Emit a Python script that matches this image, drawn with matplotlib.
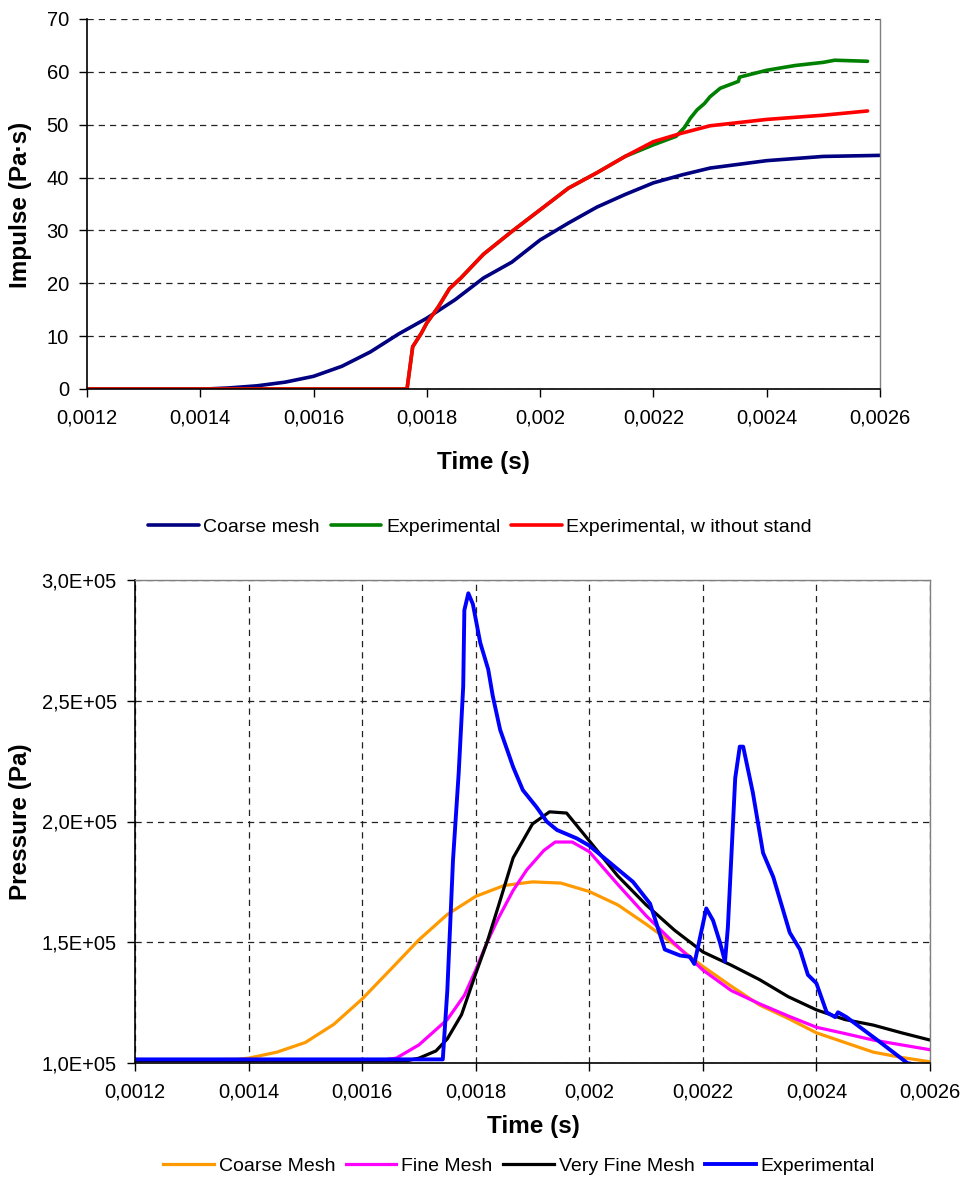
import matplotlib
matplotlib.use("Agg")
import matplotlib.pyplot as plt
from matplotlib.ticker import FuncFormatter, MultipleLocator

plt.rcParams['font.family'] = ['Liberation Sans', 'DejaVu Sans']

# ---------------- Top chart data: Impulse ----------------
coarse_t = [0.0012, 0.00141, 0.00145, 0.0015, 0.00155, 0.0016, 0.00165, 0.0017, 0.00175,
            0.0018, 0.00185, 0.0019, 0.00195, 0.002, 0.00205, 0.0021, 0.00215, 0.0022,
            0.00225, 0.0023, 0.00235, 0.0024, 0.0025, 0.0026]
coarse_i = [0, 0, 0.2, 0.6, 1.3, 2.4, 4.3, 7.0, 10.4, 13.4, 16.9, 21.0, 24.0, 28.2, 31.4,
            34.4, 36.8, 39.0, 40.5, 41.8, 42.5, 43.2, 44.0, 44.2]

exp_t = [0.0012, 0.001765, 0.00177, 0.001775, 0.00179, 0.0018, 0.00182, 0.00184, 0.00186,
         0.0019, 0.00195, 0.002, 0.00205, 0.0021, 0.00215, 0.0022, 0.00224, 0.002255,
         0.002265, 0.002277, 0.00229, 0.0023, 0.002318, 0.00235, 0.002352, 0.0024,
         0.00245, 0.0025, 0.00252, 0.002578]
exp_i = [0, 0, 4, 8, 10.5, 12.5, 15.5, 19.0, 21.0, 25.5, 29.8, 33.9, 38.0, 40.9, 44.0,
         46.2, 47.8, 49.5, 51.2, 52.8, 54.0, 55.3, 56.9, 58.2, 59.0, 60.3, 61.2, 61.8,
         62.2, 62.0]

nostand_t = [0.0012, 0.001765, 0.00177, 0.001775, 0.00179, 0.0018, 0.00182, 0.00184,
             0.00186, 0.0019, 0.00195, 0.002, 0.00205, 0.0021, 0.00215, 0.0022, 0.00225,
             0.0023, 0.00235, 0.0024, 0.0025, 0.002578]
nostand_i = [0, 0, 4, 8, 10.5, 12.5, 15.5, 19.0, 21.0, 25.5, 29.8, 33.9, 38.0, 40.9, 44.0,
             46.8, 48.4, 49.8, 50.4, 51.0, 51.8, 52.6]

top_labels = ["Coarse mesh", "Experimental", "Experimental, w ithout stand"]
top_colors = ["#000080", "#008000", "#FF0000"]

# ---------------- Bottom chart data: Pressure ----------------
cm_t = [0.0012, 0.00138, 0.0014, 0.00145, 0.0015, 0.00155, 0.0016, 0.00165, 0.0017,
        0.00175, 0.0018, 0.00185, 0.0019, 0.00195, 0.002, 0.00205, 0.0021, 0.00215,
        0.0022, 0.00225, 0.0023, 0.00235, 0.0024, 0.00245, 0.0025, 0.00255, 0.0026]
cm_p = [1.01e5, 1.015e5, 1.02e5, 1.045e5, 1.085e5, 1.16e5, 1.265e5, 1.387e5, 1.51e5,
        1.615e5, 1.69e5, 1.735e5, 1.75e5, 1.745e5, 1.71e5, 1.655e5, 1.575e5, 1.49e5,
        1.40e5, 1.318e5, 1.24e5, 1.185e5, 1.125e5, 1.085e5, 1.045e5, 1.023e5, 1.005e5]

fm_t = [0.0012, 0.00163, 0.00166, 0.0017, 0.00175, 0.00178, 0.0018, 0.00182, 0.00184,
        0.001866, 0.00189, 0.00192, 0.00194, 0.00197, 0.002, 0.00205, 0.0021, 0.00215,
        0.0022, 0.00225, 0.0023, 0.00235, 0.0024, 0.00245, 0.0025, 0.00255, 0.0026]
fm_p = [1.01e5, 1.01e5, 1.02e5, 1.075e5, 1.18e5, 1.28e5, 1.385e5, 1.5e5, 1.6e5,
        1.715e5, 1.8e5, 1.88e5, 1.915e5, 1.915e5, 1.875e5, 1.74e5, 1.61e5, 1.495e5,
        1.385e5, 1.30e5, 1.245e5, 1.195e5, 1.148e5, 1.122e5, 1.095e5, 1.075e5, 1.055e5]

vfm_t = [0.0012, 0.00168, 0.0017, 0.00173, 0.00175, 0.001775, 0.0018, 0.00182, 0.00184,
         0.001866, 0.0019, 0.00193, 0.00196, 0.002, 0.00205, 0.0021, 0.00215, 0.0022,
         0.00225, 0.0023, 0.00235, 0.0024, 0.00245, 0.0025, 0.00255, 0.0026]
vfm_p = [1.01e5, 1.01e5, 1.02e5, 1.05e5, 1.10e5, 1.20e5, 1.37e5, 1.50e5, 1.65e5,
         1.85e5, 1.99e5, 2.04e5, 2.035e5, 1.92e5, 1.775e5, 1.655e5, 1.55e5, 1.46e5,
         1.405e5, 1.345e5, 1.275e5, 1.22e5, 1.18e5, 1.157e5, 1.125e5, 1.095e5]

ex_t = [0.0012, 0.001742, 0.00175, 0.00176, 0.00177, 0.001778, 0.00178, 0.001787,
        0.001795, 0.001808, 0.001822, 0.00183, 0.001843, 0.001866, 0.001883, 0.001907,
        0.001925, 0.001943, 0.001978, 0.002, 0.002036, 0.002077, 0.002107, 0.002133,
        0.00216, 0.002177, 0.002185, 0.002206, 0.002218, 0.00223, 0.002239, 0.002244,
        0.002257, 0.002265, 0.002271, 0.002288, 0.002306, 0.002324, 0.002353, 0.002371,
        0.002385, 0.0024, 0.002418, 0.002433, 0.002438, 0.002453, 0.00251, 0.00256,
        0.00258]
ex_p = [1.015e5, 1.015e5, 1.3e5, 1.84e5, 2.2e5, 2.56e5, 2.875e5, 2.945e5,
        2.9e5, 2.74e5, 2.63e5, 2.52e5, 2.38e5, 2.225e5, 2.13e5, 2.06e5,
        2.0e5, 1.965e5, 1.93e5, 1.9e5, 1.83e5, 1.75e5, 1.66e5, 1.47e5,
        1.445e5, 1.44e5, 1.41e5, 1.64e5, 1.59e5, 1.5e5, 1.42e5, 1.56e5,
        2.18e5, 2.31e5, 2.31e5, 2.12e5, 1.87e5, 1.77e5, 1.54e5, 1.47e5,
        1.365e5, 1.33e5, 1.21e5, 1.19e5, 1.21e5, 1.19e5, 1.09e5, 1.0e5,
        0.99e5]

bot_labels = ["Coarse Mesh", "Fine Mesh", "Very Fine Mesh", "Experimental"]
bot_colors = ["#FF9900", "#FF00FF", "#000000", "#0000FF"]

x_ticks = [0.0012, 0.0014, 0.0016, 0.0018, 0.002, 0.0022, 0.0024, 0.0026]

# ---------------- Figure ----------------
W, H = 968, 1180
fig = plt.figure(figsize=(W / 100, H / 100), dpi=100)


def rect(l, t, r, b):
    return [l / W, 1 - b / H, (r - l) / W, (b - t) / H]


def xfmt(v, pos):
    s = f"{v:.4f}".rstrip('0')
    return s.replace('.', ',')


def efmt(v, pos):
    return f"{v:.1E}".replace('.', ',')


grid_kw = dict(color='#222222', linestyle=(0, (5, 4)), linewidth=0.9)

# Top axes
ax1 = fig.add_axes(rect(87, 19, 880, 389))
ax1.plot(coarse_t, coarse_i, color=top_colors[0], lw=2.6, label=top_labels[0],
         solid_capstyle='round')
ax1.plot(exp_t, exp_i, color=top_colors[1], lw=2.6, label=top_labels[1], solid_capstyle='round')
ax1.plot(nostand_t, nostand_i, color=top_colors[2], lw=2.6, label=top_labels[2], solid_capstyle='round')
ax1.set_xlim(0.0012, 0.0026)
ax1.set_ylim(0, 70)
ax1.set_xticks(x_ticks)
ax1.xaxis.set_major_formatter(FuncFormatter(xfmt))
ax1.yaxis.set_major_locator(MultipleLocator(10))
ax1.yaxis.grid(True, **grid_kw)
ax1.set_axisbelow(True)

# Bottom axes
ax2 = fig.add_axes(rect(135, 580, 930, 1063))
for t, p, c, lab in zip([cm_t, fm_t, vfm_t, ex_t], [cm_p, fm_p, vfm_p, ex_p], bot_colors, bot_labels):
    ax2.plot(t, p, color=c, lw=2.8 if lab == "Experimental" else 2.3, label=lab)
ax2.set_xlim(0.0012, 0.0026)
ax2.set_ylim(1.0e5, 3.0e5)
ax2.set_xticks(x_ticks)
ax2.xaxis.set_major_formatter(FuncFormatter(xfmt))
ax2.yaxis.set_major_locator(MultipleLocator(0.5e5))
ax2.yaxis.set_major_formatter(FuncFormatter(efmt))
ax2.grid(True, **grid_kw)
ax2.set_axisbelow(True)

for ax in (ax1, ax2):
    ax.tick_params(axis='both', direction='out', length=6, width=1, labelsize=14.5,
                   colors='black')
    ax.tick_params(axis='x', pad=8)
    ax.tick_params(axis='y', pad=7)
    for s in ('left', 'bottom'):
        ax.spines[s].set_color('black')
        ax.spines[s].set_linewidth(1.2)
    for s in ('top', 'right'):
        ax.spines[s].set_color('#808080')
        ax.spines[s].set_linewidth(1.0)
ax1.spines['top'].set_visible(False)

# Axis labels
lab_kw = dict(fontsize=17.5, fontweight='bold', ha='center', va='center')
fig.text(21 / W, 1 - 205 / H, "Impulse (Pa·s)", rotation=90, **lab_kw)
fig.text(483 / W, 1 - 463 / H, "Time (s)", **lab_kw)
fig.text(21 / W, 1 - 822 / H, "Pressure (Pa)", rotation=90, **lab_kw)
fig.text(533 / W, 1 - 1126 / H, "Time (s)", **lab_kw)

# Legends
leg_kw = dict(loc='center', frameon=False, fontsize=14, handlelength=2.6,
              handletextpad=0.25, columnspacing=0.55, borderaxespad=0)
h1, l1 = ax1.get_legend_handles_labels()
fig.legend(h1, l1, ncol=3, bbox_to_anchor=(480 / W, 1 - 527 / H), **leg_kw)
h2, l2 = ax2.get_legend_handles_labels()
fig.legend(h2, l2, ncol=4, bbox_to_anchor=(519 / W, 1 - 1166 / H), **leg_kw)

fig.savefig("out.png", dpi=100)
